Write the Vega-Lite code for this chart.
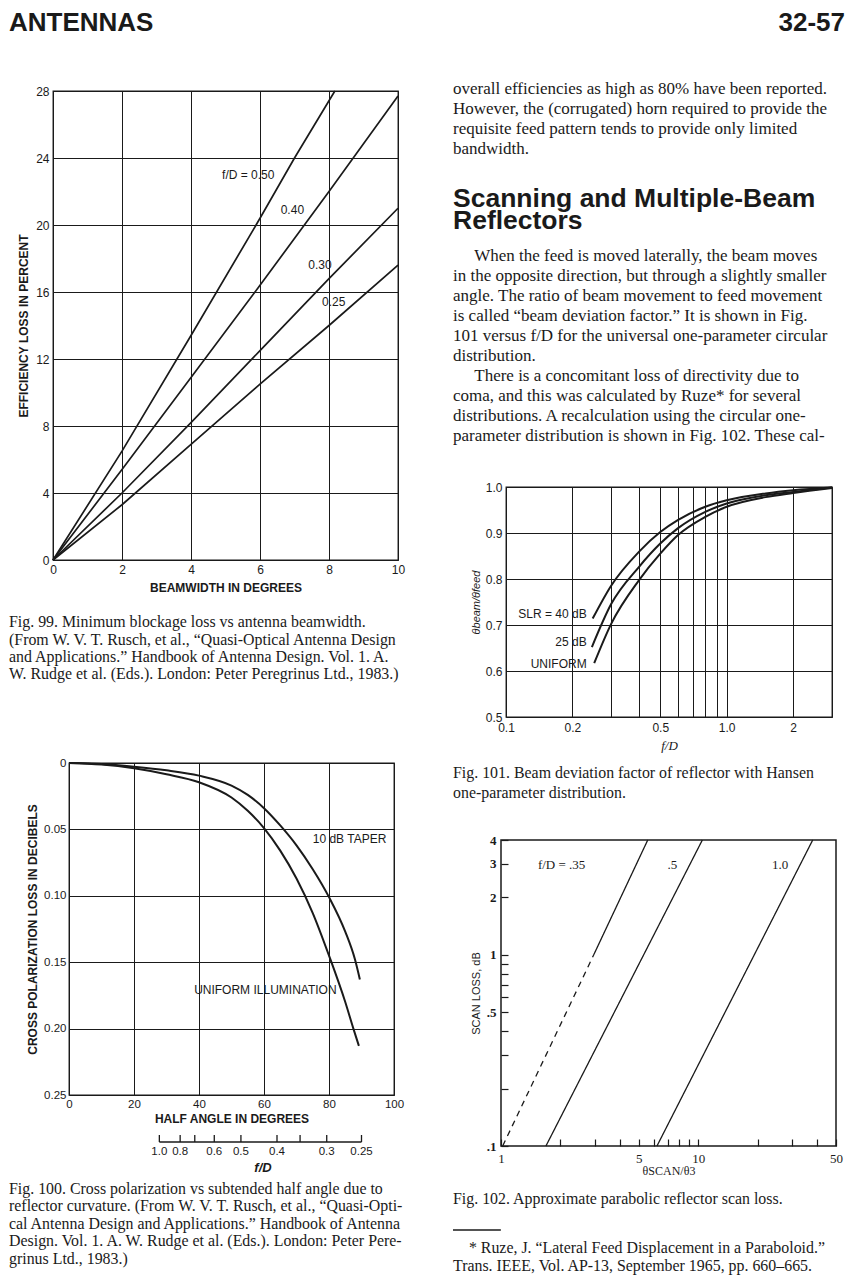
{
"$schema": "https://vega.github.io/schema/vega-lite/v6.json",
"background": "white",
"padding": {"left": 9, "top": 3, "right": 2, "bottom": 0},
"config": {
  "view": {"stroke": null},
  "font": "Liberation Sans",
  "axis": {"labelFont": "Liberation Sans", "titleFont": "Liberation Sans", "labelColor": "#1a1a1a", "titleColor": "#1a1a1a", "domain": false, "ticks": false, "tickSize": 0, "labelFontSize": 12, "titleFontSize": 12, "titleFontWeight": "bold", "gridColor": "#1a1a1a", "gridOpacity": 1, "gridWidth": 1, "labelFlush": false, "labelOverlap": false, "minExtent": 0},
  "text": {"color": "#1a1a1a"},
  "line": {"color": "#1a1a1a"}
},
"datasets": {
  "header": [{"t": "ANTENNAS"}, {"t": "32-57"}],
  "spacer": [{"role": "layout spacer"}],
  "fig99": [
    {"fD": "0.50", "beamwidth": 0, "loss": 0}, {"fD": "0.50", "beamwidth": 2, "loss": 6.5}, {"fD": "0.50", "beamwidth": 4, "loss": 13.4}, {"fD": "0.50", "beamwidth": 6, "loss": 20.4}, {"fD": "0.50", "beamwidth": 7, "loss": 24.0}, {"fD": "0.50", "beamwidth": 8.17, "loss": 28},
    {"fD": "0.40", "beamwidth": 0, "loss": 0}, {"fD": "0.40", "beamwidth": 2, "loss": 5.4}, {"fD": "0.40", "beamwidth": 4, "loss": 10.9}, {"fD": "0.40", "beamwidth": 6, "loss": 16.4}, {"fD": "0.40", "beamwidth": 8, "loss": 22.0}, {"fD": "0.40", "beamwidth": 10, "loss": 27.7},
    {"fD": "0.30", "beamwidth": 0, "loss": 0}, {"fD": "0.30", "beamwidth": 2, "loss": 4.0}, {"fD": "0.30", "beamwidth": 4, "loss": 8.2}, {"fD": "0.30", "beamwidth": 6, "loss": 12.5}, {"fD": "0.30", "beamwidth": 8, "loss": 16.8}, {"fD": "0.30", "beamwidth": 10, "loss": 21.0},
    {"fD": "0.25", "beamwidth": 0, "loss": 0}, {"fD": "0.25", "beamwidth": 2, "loss": 3.3}, {"fD": "0.25", "beamwidth": 4, "loss": 6.9}, {"fD": "0.25", "beamwidth": 6, "loss": 10.5}, {"fD": "0.25", "beamwidth": 8, "loss": 14.0}, {"fD": "0.25", "beamwidth": 10, "loss": 17.6}
  ],
  "fig99labels": [
    {"label": "f/D = 0.50", "beamwidth": 4.9, "loss": 23.0},
    {"label": "0.40", "beamwidth": 6.6, "loss": 20.9},
    {"label": "0.30", "beamwidth": 7.4, "loss": 17.6},
    {"label": "0.25", "beamwidth": 7.8, "loss": 15.4}
  ],
  "fig100": [
    {"curve": "10 dB taper", "angle": 0, "loss": 0}, {"curve": "10 dB taper", "angle": 10, "loss": 0.0008}, {"curve": "10 dB taper", "angle": 20, "loss": 0.0028}, {"curve": "10 dB taper", "angle": 30, "loss": 0.0055}, {"curve": "10 dB taper", "angle": 40, "loss": 0.0095}, {"curve": "10 dB taper", "angle": 50, "loss": 0.017}, {"curve": "10 dB taper", "angle": 55, "loss": 0.024}, {"curve": "10 dB taper", "angle": 60, "loss": 0.034}, {"curve": "10 dB taper", "angle": 65, "loss": 0.047}, {"curve": "10 dB taper", "angle": 70, "loss": 0.062}, {"curve": "10 dB taper", "angle": 75, "loss": 0.08}, {"curve": "10 dB taper", "angle": 80, "loss": 0.101}, {"curve": "10 dB taper", "angle": 85, "loss": 0.127}, {"curve": "10 dB taper", "angle": 88, "loss": 0.148}, {"curve": "10 dB taper", "angle": 89.5, "loss": 0.163},
    {"curve": "uniform", "angle": 0, "loss": 0}, {"curve": "uniform", "angle": 10, "loss": 0.0012}, {"curve": "uniform", "angle": 20, "loss": 0.004}, {"curve": "uniform", "angle": 30, "loss": 0.0085}, {"curve": "uniform", "angle": 40, "loss": 0.0145}, {"curve": "uniform", "angle": 50, "loss": 0.026}, {"curve": "uniform", "angle": 55, "loss": 0.036}, {"curve": "uniform", "angle": 60, "loss": 0.049}, {"curve": "uniform", "angle": 65, "loss": 0.066}, {"curve": "uniform", "angle": 70, "loss": 0.087}, {"curve": "uniform", "angle": 75, "loss": 0.113}, {"curve": "uniform", "angle": 80, "loss": 0.145}, {"curve": "uniform", "angle": 85, "loss": 0.18}, {"curve": "uniform", "angle": 87.5, "loss": 0.2}, {"curve": "uniform", "angle": 89.2, "loss": 0.213}
  ],
  "fig100labels": [
    {"label": "10 dB TAPER", "angle": 75, "loss": 0.057},
    {"label": "UNIFORM ILLUMINATION", "angle": 38.5, "loss": 0.171}
  ],
  "fig100fd": [
    {"fD": "1.0", "angle": 27.8, "labeled": true},
    {"fD": "0.8", "angle": 34.2, "labeled": true},
    {"fD": "0.7", "angle": 38.7, "labeled": false},
    {"fD": "0.6", "angle": 44.7, "labeled": true},
    {"fD": "0.5", "angle": 52.9, "labeled": true},
    {"fD": "0.4", "angle": 64.0, "labeled": true},
    {"fD": "0.35", "angle": 71.1, "labeled": false},
    {"fD": "0.3", "angle": 79.3, "labeled": true},
    {"fD": "0.25", "angle": 90.0, "labeled": true}
  ],
  "fig101": [
    {"dist": "SLR = 40 dB", "fD": 0.247, "ratio": 0.714}, {"dist": "SLR = 40 dB", "fD": 0.3, "ratio": 0.786}, {"dist": "SLR = 40 dB", "fD": 0.4, "ratio": 0.859}, {"dist": "SLR = 40 dB", "fD": 0.5, "ratio": 0.902}, {"dist": "SLR = 40 dB", "fD": 0.6, "ratio": 0.928}, {"dist": "SLR = 40 dB", "fD": 0.8, "ratio": 0.957}, {"dist": "SLR = 40 dB", "fD": 1.0, "ratio": 0.971}, {"dist": "SLR = 40 dB", "fD": 1.5, "ratio": 0.986}, {"dist": "SLR = 40 dB", "fD": 2, "ratio": 0.993}, {"dist": "SLR = 40 dB", "fD": 3, "ratio": 0.999},
    {"dist": "25 dB", "fD": 0.245, "ratio": 0.652}, {"dist": "25 dB", "fD": 0.3, "ratio": 0.746}, {"dist": "25 dB", "fD": 0.4, "ratio": 0.826}, {"dist": "25 dB", "fD": 0.5, "ratio": 0.877}, {"dist": "25 dB", "fD": 0.6, "ratio": 0.91}, {"dist": "25 dB", "fD": 0.8, "ratio": 0.946}, {"dist": "25 dB", "fD": 1.0, "ratio": 0.964}, {"dist": "25 dB", "fD": 1.5, "ratio": 0.982}, {"dist": "25 dB", "fD": 2, "ratio": 0.989}, {"dist": "25 dB", "fD": 3, "ratio": 0.999},
    {"dist": "UNIFORM", "fD": 0.251, "ratio": 0.617}, {"dist": "UNIFORM", "fD": 0.3, "ratio": 0.703}, {"dist": "UNIFORM", "fD": 0.4, "ratio": 0.797}, {"dist": "UNIFORM", "fD": 0.5, "ratio": 0.855}, {"dist": "UNIFORM", "fD": 0.6, "ratio": 0.895}, {"dist": "UNIFORM", "fD": 0.8, "ratio": 0.935}, {"dist": "UNIFORM", "fD": 1.0, "ratio": 0.957}, {"dist": "UNIFORM", "fD": 1.5, "ratio": 0.978}, {"dist": "UNIFORM", "fD": 2, "ratio": 0.987}, {"dist": "UNIFORM", "fD": 3, "ratio": 0.998}
  ],
  "fig101labels": [
    {"label": "SLR = 40 dB", "fD": 0.232, "ratio": 0.723},
    {"label": "25 dB", "fD": 0.232, "ratio": 0.663},
    {"label": "UNIFORM", "fD": 0.232, "ratio": 0.616}
  ],
  "fig102": [
    {"fD": ".35", "part": "dashed", "ratio": 1.02, "loss": 0.1}, {"fD": ".35", "part": "dashed", "ratio": 2.95, "loss": 1.0},
    {"fD": ".35", "part": "solid", "ratio": 2.95, "loss": 1.0}, {"fD": ".35", "part": "solid", "ratio": 5.55, "loss": 4},
    {"fD": ".5", "part": "solid", "ratio": 1.69, "loss": 0.1}, {"fD": ".5", "part": "solid", "ratio": 10.5, "loss": 4},
    {"fD": "1.0", "part": "solid", "ratio": 6.18, "loss": 0.1}, {"fD": "1.0", "part": "solid", "ratio": 38.1, "loss": 4}
  ],
  "fig102labels": [
    {"label": "f/D  =  .35", "ratio": 2.03, "loss": 2.95},
    {"label": ".5", "ratio": 7.4, "loss": 2.95},
    {"label": "1.0", "ratio": 26, "loss": 2.95}
  ],
  "cap99": [
    {"line": 0, "text": "Fig. 99. Minimum blockage loss vs antenna beamwidth."},
    {"line": 1, "text": "(From W. V. T. Rusch, et al., “Quasi-Optical Antenna Design"},
    {"line": 2, "text": "and Applications.” Handbook of Antenna Design. Vol. 1. A."},
    {"line": 3, "text": "W. Rudge et al. (Eds.). London: Peter Peregrinus Ltd., 1983.)"}
  ],
  "cap100": [
    {"line": 0, "text": "Fig. 100. Cross polarization vs subtended half angle due to"},
    {"line": 1, "text": "reflector curvature. (From W. V. T. Rusch, et al., “Quasi-Opti-"},
    {"line": 2, "text": "cal Antenna Design and Applications.” Handbook of Antenna"},
    {"line": 3, "text": "Design. Vol. 1. A. W. Rudge et al. (Eds.). London: Peter Pere-"},
    {"line": 4, "text": "grinus Ltd., 1983.)"}
  ],
  "body": [
    {"line": 0, "text": "overall efficiencies as high as 80% have been reported."},
    {"line": 1, "text": "However, the (corrugated) horn required to provide the"},
    {"line": 2, "text": "requisite feed pattern tends to provide only limited"},
    {"line": 3, "text": "bandwidth."},
    {"line": 8.35, "text": "\u200b\u00a0\u00a0\u00a0\u00a0\u00a0When the feed is moved laterally, the beam moves"},
    {"line": 9.35, "text": "in the opposite direction, but through a slightly smaller"},
    {"line": 10.35, "text": "angle. The ratio of beam movement to feed movement"},
    {"line": 11.35, "text": "is called “beam deviation factor.” It is shown in Fig."},
    {"line": 12.35, "text": "101 versus f/D for the universal one-parameter circular"},
    {"line": 13.35, "text": "distribution."},
    {"line": 14.35, "text": "\u200b\u00a0\u00a0\u00a0\u00a0\u00a0There is a concomitant loss of directivity due to"},
    {"line": 15.35, "text": "coma, and this was calculated by Ruze* for several"},
    {"line": 16.35, "text": "distributions. A recalculation using the circular one-"},
    {"line": 17.35, "text": "parameter distribution is shown in Fig. 102. These cal-"}
  ],
  "heading": [
    {"line": 5.5, "text": "Scanning and Multiple-Beam"},
    {"line": 6.6, "text": "Reflectors"}
  ],
  "cap101": [
    {"line": 0, "text": "Fig. 101. Beam deviation factor of reflector with Hansen"},
    {"line": 1, "text": "one-parameter distribution."}
  ],
  "cap102": [
    {"line": 0, "text": "Fig. 102. Approximate parabolic reflector scan loss."}
  ],
  "foot": [
    {"line": 1, "text": "\u200b\u00a0\u00a0\u00a0\u00a0* Ruze, J. “Lateral Feed Displacement in a Paraboloid.”"},
    {"line": 2, "text": "Trans. IEEE, Vol. AP-13, September 1965, pp. 660–665."}
  ]
},
"spacing": 36,
"vconcat": [
  {
    "width": 836, "height": 28,
    "data": {"name": "header"},
    "layer": [
      {"transform": [{"filter": "datum.t == 'ANTENNAS'"}],
       "mark": {"type": "text", "align": "left", "baseline": "alphabetic", "font": "Liberation Sans", "fontWeight": "bold", "fontSize": 26},
       "encoding": {
         "x": {"datum": 0, "type": "quantitative", "scale": {"domain": [0, 1], "nice": false}, "axis": null},
         "y": {"datum": 0, "type": "quantitative", "scale": {"domain": [0, 1], "nice": false}, "axis": null},
         "text": {"field": "t", "type": "nominal"}}},
      {"transform": [{"filter": "datum.t == '32-57'"}],
       "mark": {"type": "text", "align": "right", "baseline": "alphabetic", "font": "Liberation Sans", "fontWeight": "bold", "fontSize": 26},
       "encoding": {
         "x": {"datum": 1, "type": "quantitative"},
         "y": {"datum": 0, "type": "quantitative"},
         "text": {"field": "t", "type": "nominal"}}}
    ]
  },
  {
    "spacing": 46,
    "hconcat": [
      {
        "spacing": 0,
        "vconcat": [
          {
            "spacing": 0,
            "hconcat": [
              {"width": 1, "height": 1, "data": {"name": "spacer"}, "mark": {"type": "rect", "opacity": 0}},
              {
                "width": 345, "height": 469,
                "title": {"text": " ", "fontSize": 2, "offset": 10, "anchor": "start"},
                "view": {"stroke": "#1a1a1a", "strokeWidth": 1.3},
                "layer": [
                  {"data": {"name": "fig99"},
                   "mark": {"type": "line", "strokeWidth": 1.7, "color": "#1a1a1a"},
                   "encoding": {
                     "x": {"field": "beamwidth", "type": "quantitative", "scale": {"domain": [0, 10], "nice": false, "zero": false},
                           "axis": {"values": [0, 2, 4, 6, 8, 10], "grid": true, "labelPadding": 4, "title": "BEAMWIDTH IN DEGREES", "titlePadding": 7}},
                     "y": {"field": "loss", "type": "quantitative", "scale": {"domain": [0, 28], "nice": false},
                           "axis": {"values": [0, 4, 8, 12, 16, 20, 24, 28], "grid": true, "labelPadding": 4, "title": "EFFICIENCY LOSS IN PERCENT", "titleX": -23}},
                     "detail": {"field": "fD", "type": "nominal"}}},
                  {"data": {"name": "fig99labels"},
                   "mark": {"type": "text", "align": "left", "baseline": "middle", "fontSize": 12},
                   "encoding": {
                     "x": {"field": "beamwidth", "type": "quantitative"},
                     "y": {"field": "loss", "type": "quantitative"},
                     "text": {"field": "label", "type": "nominal"}}},
                  {"data": {"name": "spacer"},
                   "mark": {"type": "rule", "opacity": 0, "strokeOpacity": 0},
                   "encoding": {
                     "x": {"datum": -1.2174, "type": "quantitative"},
                     "x2": {"datum": 0},
                     "y": {"datum": 0, "type": "quantitative"}}}
                ]
              }
            ]
          },
          {
            "width": 389, "height": 162,
            "data": {"name": "cap99"},
            "mark": {"type": "text", "align": "left", "baseline": "middle", "font": "Liberation Serif", "fontSize": 15.9},
            "encoding": {
              "x": {"datum": 0, "type": "quantitative", "scale": {"domain": [0, 1], "nice": false}, "axis": null},
              "y": {"field": "line", "type": "quantitative", "scale": {"domain": [-1.62, 7.69], "reverse": true, "nice": false, "zero": false}, "axis": null},
              "text": {"field": "text", "type": "nominal"}}
          },
          {
            "spacing": 0,
            "hconcat": [
              {"width": 1, "height": 1, "data": {"name": "spacer"}, "mark": {"type": "rect", "opacity": 0}},
              {
                "width": 325, "height": 332,
                "view": {"stroke": "#1a1a1a", "strokeWidth": 1.3},
                "layer": [
                  {"data": {"name": "fig100"},
                   "mark": {"type": "line", "strokeWidth": 2, "interpolate": "monotone", "color": "#1a1a1a"},
                   "encoding": {
                     "x": {"field": "angle", "type": "quantitative", "scale": {"domain": [0, 100], "nice": false, "zero": false},
                           "axis": {"values": [0, 20, 40, 60, 80, 100], "grid": true, "labelPadding": 3, "labelFontSize": 11.5, "title": "HALF ANGLE IN DEGREES", "titlePadding": 4}},
                     "y": {"field": "loss", "type": "quantitative", "scale": {"domain": [0, 0.25], "reverse": true, "nice": false},
                           "axis": {"values": [0, 0.05, 0.1, 0.15, 0.2, 0.25], "grid": true, "labelPadding": 3, "labelFontSize": 11.5, "labelExpr": "datum.value == 0 ? '0' : format(datum.value, '.2f')", "title": "CROSS POLARIZATION LOSS IN DECIBELS", "titleX": -29.5}},
                     "detail": {"field": "curve", "type": "nominal"}}},
                  {"data": {"name": "fig100labels"},
                   "mark": {"type": "text", "align": "left", "baseline": "middle", "fontSize": 12},
                   "encoding": {
                     "x": {"field": "angle", "type": "quantitative"},
                     "y": {"field": "loss", "type": "quantitative"},
                     "text": {"field": "label", "type": "nominal"}}},
                  {"data": {"name": "fig100fd"},
                   "transform": [{"aggregate": [{"op": "min", "field": "angle", "as": "lo"}, {"op": "max", "field": "angle", "as": "hi"}]}],
                   "mark": {"type": "rule", "strokeWidth": 1.5, "color": "#1a1a1a"},
                   "encoding": {
                     "x": {"field": "lo", "type": "quantitative"},
                     "x2": {"field": "hi"},
                     "y": {"datum": 0.2854, "type": "quantitative"}}},
                  {"data": {"name": "fig100fd"},
                   "mark": {"type": "rule", "strokeWidth": 1.3, "color": "#1a1a1a"},
                   "encoding": {
                     "x": {"field": "angle", "type": "quantitative"},
                     "y": {"datum": 0.2801, "type": "quantitative"},
                     "y2": {"datum": 0.2854}}},
                  {"data": {"name": "fig100fd"},
                   "transform": [{"filter": "datum.labeled"}],
                   "mark": {"type": "text", "align": "center", "baseline": "middle", "fontSize": 11.5},
                   "encoding": {
                     "x": {"field": "angle", "type": "quantitative"},
                     "y": {"datum": 0.2929, "type": "quantitative"},
                     "text": {"field": "fD", "type": "nominal"}}},
                  {"data": {"values": [{"t": "f/D"}]},
                   "mark": {"type": "text", "align": "center", "baseline": "middle", "fontSize": 13, "fontStyle": "italic", "fontWeight": "bold"},
                   "encoding": {
                     "x": {"datum": 59.7, "type": "quantitative"},
                     "y": {"datum": 0.305, "type": "quantitative"},
                     "text": {"field": "t", "type": "nominal"}}},
                  {"data": {"name": "spacer"},
                   "mark": {"type": "rule", "opacity": 0, "strokeOpacity": 0},
                   "encoding": {
                     "x": {"datum": -17.846, "type": "quantitative"},
                     "x2": {"datum": 0},
                     "y": {"datum": 0, "type": "quantitative"}}}
                ]
              }
            ]
          },
          {
            "width": 389, "height": 101,
            "data": {"name": "cap100"},
            "mark": {"type": "text", "align": "left", "baseline": "middle", "font": "Liberation Serif", "fontSize": 15.9},
            "encoding": {
              "x": {"datum": 0, "type": "quantitative", "scale": {"domain": [0, 1], "nice": false}, "axis": null},
              "y": {"field": "line", "type": "quantitative", "scale": {"domain": [-0.743, 5.029], "reverse": true, "nice": false, "zero": false}, "axis": null},
              "text": {"field": "text", "type": "nominal"}}
          }
        ]
      },
      {
        "spacing": 0,
        "vconcat": [
          {
            "width": 389, "height": 389,
            "layer": [
              {"data": {"name": "body"},
               "mark": {"type": "text", "align": "left", "baseline": "middle", "font": "Liberation Serif", "fontSize": 17},
               "encoding": {
                 "x": {"datum": 0, "type": "quantitative", "scale": {"domain": [0, 1], "nice": false}, "axis": null},
                 "y": {"field": "line", "type": "quantitative", "scale": {"domain": [0.1, 19.55], "reverse": true, "nice": false, "zero": false}, "axis": null},
                 "text": {"field": "text", "type": "nominal"}}},
              {"data": {"name": "heading"},
               "mark": {"type": "text", "align": "left", "baseline": "middle", "font": "Liberation Sans", "fontWeight": "bold", "fontSize": 26.5},
               "encoding": {
                 "x": {"datum": 0, "type": "quantitative"},
                 "y": {"field": "line", "type": "quantitative"},
                 "text": {"field": "text", "type": "nominal"}}}
            ]
          },
          {
            "spacing": 0,
            "hconcat": [
              {"width": 1, "height": 1, "data": {"name": "spacer"}, "mark": {"type": "rect", "opacity": 0}},
              {
                "width": 326, "height": 230,
                "view": {"stroke": "#1a1a1a", "strokeWidth": 1.3},
                "layer": [
                  {"data": {"name": "fig101"},
                   "mark": {"type": "line", "strokeWidth": 2, "interpolate": "monotone", "color": "#1a1a1a"},
                   "encoding": {
                     "x": {"field": "fD", "type": "quantitative", "scale": {"type": "log", "domain": [0.1, 3], "nice": false},
                           "axis": {"values": [0.1, 0.2, 0.3, 0.4, 0.5, 0.6, 0.7, 0.8, 0.9, 1, 2, 3], "grid": true, "labelPadding": 5,
                                    "labelExpr": "datum.value == 0.1 ? '0.1' : datum.value == 0.2 ? '0.2' : datum.value == 0.5 ? '0.5' : datum.value == 1 ? '1.0' : datum.value == 2 ? '2' : ''",
                                    "title": "f/D", "titleFont": "Liberation Serif", "titleFontStyle": "italic", "titleFontWeight": "normal", "titleFontSize": 13, "titlePadding": 6}},
                     "y": {"field": "ratio", "type": "quantitative", "scale": {"domain": [0.5, 1], "nice": false, "zero": false},
                           "axis": {"values": [0.5, 0.6, 0.7, 0.8, 0.9, 1.0], "format": ".1f", "grid": true, "labelPadding": 4, "title": "θbeam/θfeed", "titleFontWeight": "normal", "titleFontStyle": "italic", "titleFontSize": 11, "titleX": -25}},
                     "detail": {"field": "dist", "type": "nominal"}}},
                  {"data": {"name": "fig101labels"},
                   "mark": {"type": "text", "align": "right", "baseline": "middle", "fontSize": 12},
                   "encoding": {
                     "x": {"field": "fD", "type": "quantitative"},
                     "y": {"field": "ratio", "type": "quantitative"},
                     "text": {"field": "label", "type": "nominal"}}},
                  {"data": {"name": "spacer"},
                   "mark": {"type": "rule", "opacity": 0, "strokeOpacity": 0},
                   "encoding": {
                     "x": {"datum": 0.05873, "type": "quantitative"},
                     "x2": {"datum": 0.1},
                     "y": {"datum": 0.5, "type": "quantitative"}}}
                ]
              }
            ]
          },
          {
            "width": 389, "height": 80,
            "data": {"name": "cap101"},
            "mark": {"type": "text", "align": "left", "baseline": "middle", "font": "Liberation Serif", "fontSize": 15.9},
            "encoding": {
              "x": {"datum": 0, "type": "quantitative", "scale": {"domain": [0, 1], "nice": false}, "axis": null},
              "y": {"field": "line", "type": "quantitative", "scale": {"domain": [-1.005, 2.995], "reverse": true, "nice": false, "zero": false}, "axis": null},
              "text": {"field": "text", "type": "nominal"}}
          },
          {
            "spacing": 0,
            "hconcat": [
              {"width": 1, "height": 1, "data": {"name": "spacer"}, "mark": {"type": "rect", "opacity": 0}},
              {
                "width": 335, "height": 306,
                "view": {"stroke": "#1a1a1a", "strokeWidth": 1.5},
                "layer": [
                  {"data": {"name": "fig102"},
                   "mark": {"type": "line", "strokeWidth": 1.3, "color": "#1a1a1a"},
                   "encoding": {
                     "x": {"field": "ratio", "type": "quantitative", "scale": {"type": "log", "domain": [1, 50], "nice": false},
                           "axis": {"values": [1, 2, 3, 4, 5, 6, 7, 8, 9, 10, 20, 30, 40, 50], "grid": false, "ticks": true, "tickSize": -7, "tickColor": "#1a1a1a", "tickWidth": 1.2, "labelPadding": 13,
                                    "labelExpr": "datum.value == 1 || datum.value == 5 || datum.value == 10 || datum.value == 50 ? '' + datum.value : ''",
                                    "labelFont": "Liberation Serif", "labelFontSize": 13, "title": "θSCAN/θ3", "titleFont": "Liberation Serif", "titleFontWeight": "normal", "titleFontSize": 12, "titlePadding": 0}},
                     "y": {"field": "loss", "type": "quantitative", "scale": {"type": "log", "domain": [0.1, 4], "nice": false},
                           "axis": {"values": [0.1, 0.2, 0.3, 0.4, 0.5, 0.6, 0.7, 0.8, 0.9, 1, 2, 3, 4], "grid": false, "ticks": true, "tickSize": -7, "tickColor": "#1a1a1a", "tickWidth": 1.2, "labelPadding": 12,
                                    "labelExpr": "datum.value == 4 ? '4' : datum.value == 3 ? '3' : datum.value == 2 ? '2' : datum.value == 1 ? '1' : datum.value == 0.5 ? '.5' : datum.value == 0.1 ? '.1' : ''",
                                    "labelFont": "Liberation Serif", "labelFontWeight": "bold", "labelFontSize": 13, "title": "SCAN LOSS, dB", "titleFontWeight": "normal", "titleFontSize": 11, "titleX": -20}},
                     "strokeDash": {"field": "part", "type": "nominal", "scale": {"domain": ["dashed", "solid"], "range": [[6, 5], [1, 0]]}, "legend": null},
                     "detail": {"field": "fD", "type": "nominal"}}},
                  {"data": {"name": "fig102labels"},
                   "mark": {"type": "text", "align": "center", "baseline": "middle", "font": "Liberation Serif", "fontSize": 13},
                   "encoding": {
                     "x": {"field": "ratio", "type": "quantitative"},
                     "y": {"field": "loss", "type": "quantitative"},
                     "text": {"field": "label", "type": "nominal"}}},
                  {"data": {"name": "spacer"},
                   "mark": {"type": "rule", "opacity": 0, "strokeOpacity": 0},
                   "encoding": {
                     "x": {"datum": 0.5843, "type": "quantitative"},
                     "x2": {"datum": 1},
                     "y": {"datum": 1, "type": "quantitative"}}}
                ]
              }
            ]
          },
          {
            "width": 389, "height": 40,
            "data": {"name": "cap102"},
            "mark": {"type": "text", "align": "left", "baseline": "middle", "font": "Liberation Serif", "fontSize": 15.9},
            "encoding": {
              "x": {"datum": 0, "type": "quantitative", "scale": {"domain": [0, 1], "nice": false}, "axis": null},
              "y": {"field": "line", "type": "quantitative", "scale": {"domain": [-1.222, 1.0], "reverse": true, "nice": false, "zero": false}, "axis": null},
              "text": {"field": "text", "type": "nominal"}}
          },
          {
            "width": 389, "height": 60,
            "layer": [
              {"data": {"values": [{"item": "footnote rule"}]},
               "mark": {"type": "rule", "strokeWidth": 1.5, "color": "#1a1a1a"},
               "encoding": {
                 "x": {"datum": 0, "type": "quantitative", "scale": {"domain": [0, 1], "nice": false}, "axis": null},
                 "x2": {"datum": 0.123},
                 "y": {"datum": 0, "type": "quantitative", "scale": {"domain": [-0.722, 2.611], "reverse": true, "nice": false, "zero": false}, "axis": null}}},
              {"data": {"name": "foot"},
               "mark": {"type": "text", "align": "left", "baseline": "middle", "font": "Liberation Serif", "fontSize": 15.9},
               "encoding": {
                 "x": {"datum": 0, "type": "quantitative"},
                 "y": {"field": "line", "type": "quantitative"},
                 "text": {"field": "text", "type": "nominal"}}}
            ]
          }
        ]
      }
    ]
  }
]
}
